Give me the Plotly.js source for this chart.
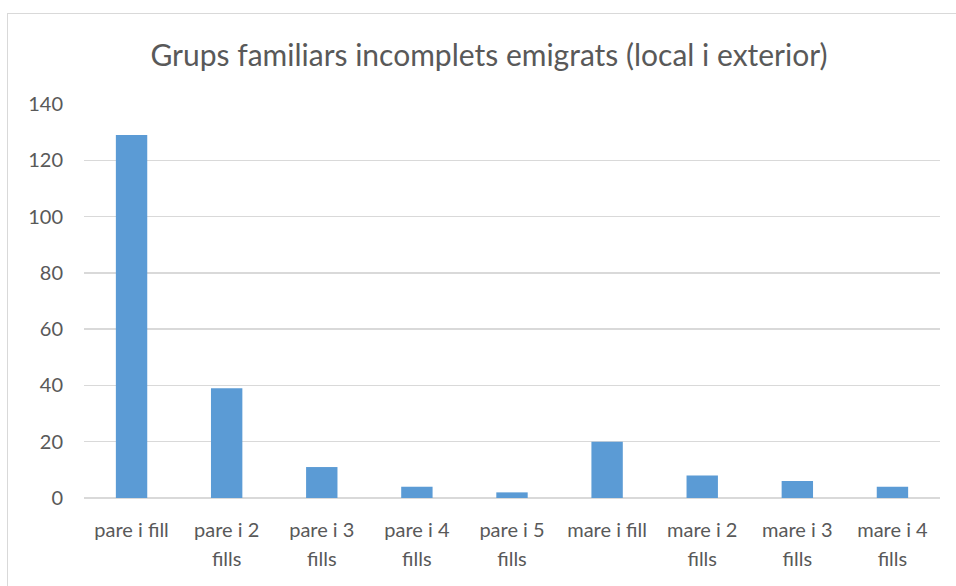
<!DOCTYPE html>
<html>
<head>
<meta charset="utf-8">
<script src="https://cdn.plot.ly/plotly-3.0.1.min.js"></script>
<style>
html,body{margin:0;padding:0;background:#fff;}
#chart{position:absolute;left:0;top:0;width:956px;height:586px;}
#frame{position:absolute;left:7px;top:13px;width:960px;height:600px;border:1px solid #d9d9d9;box-sizing:border-box;pointer-events:none;}
</style>
</head>
<body>
<div id="chart"></div>
<div id="frame"></div>
<script>
const categories = ["pare i fill","pare i 2 fills","pare i 3 fills","pare i 4 fills","pare i 5 fills","mare i fill","mare i 2 fills","mare i 3 fills","mare i 4 fills"];
const labelLine1 = ["pare i fill","pare i 2","pare i 3","pare i 4","pare i 5","mare i fill","mare i 2","mare i 3","mare i 4"];
const labelLine2 = ["","fills","fills","fills","fills","","fills","fills","fills"];
const values = [129,39,11,4,2,20,8,6,4];
const yTicks = [0,20,40,60,80,100,120,140];
const titleText = "Grups familiars incomplets emigrats (local i exterior)";

const FONT = "Lato, 'Open Sans', sans-serif";
const TXT = "#595959";

const traces = [
  {type:"bar", x:categories, y:values, marker:{color:"#5B9BD5"}, hoverinfo:"x+y", showlegend:false},
  {type:"scatter", x:[], y:[], xaxis:"x2", yaxis:"y", showlegend:false, hoverinfo:"skip"}
];

const layout = {
  width:956, height:586,
  margin:{l:84, r:16, t:104, b:88},
  paper_bgcolor:"rgba(0,0,0,0)", plot_bgcolor:"rgba(0,0,0,0)",
  font:{family:FONT, color:TXT},
  title:{text:titleText, font:{family:FONT, size:30, color:TXT}, x:489/956, xanchor:"center", xref:"container", y:1-55/586, yref:"container", yanchor:"middle"},
  bargap:0.67,
  xaxis:{type:"category", categoryarray:categories, tickmode:"array", tickvals:categories, ticktext:labelLine1,
         tickfont:{size:20, color:TXT}, ticks:"", ticklabelstandoff:18, showgrid:false, zeroline:false,
         showline:false, range:[-0.5,8.5], autorange:false, fixedrange:true},
  xaxis2:{overlaying:"x", anchor:"y", side:"bottom", range:[-0.5,8.5], autorange:false, tickmode:"array",
          tickvals:labelLine2.map((_,i)=>i), ticktext:labelLine2, tickfont:{size:20, color:TXT}, ticks:"",
          ticklabelstandoff:47, showgrid:false, zeroline:false, showline:false, fixedrange:true},
  yaxis:{range:[0,140], autorange:false, tickmode:"array", tickvals:yTicks, ticktext:yTicks.map(String),
         tickfont:{size:20, color:TXT}, ticks:"", ticklabelstandoff:20, showgrid:true, gridcolor:"#d9d9d9",
         gridwidth:1.3, zeroline:true, zerolinecolor:"#d9d9d9", zerolinewidth:1.3, showline:false, fixedrange:true}
};

Plotly.newPlot("chart", traces, layout, {displayModeBar:false, staticPlot:true});
</script>
</body>
</html>
